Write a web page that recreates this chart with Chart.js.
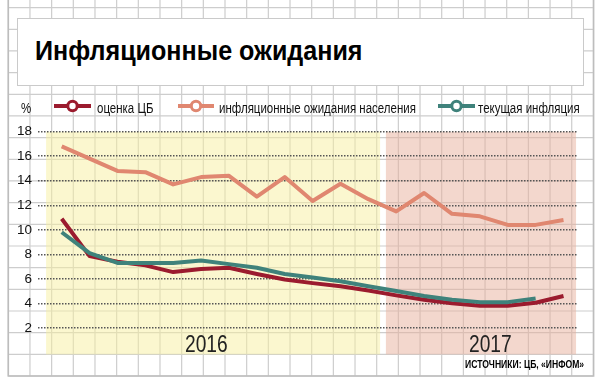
<!DOCTYPE html>
<html>
<head>
<meta charset="utf-8">
<script src="https://cdn.jsdelivr.net/npm/chart.js@4.4.1/dist/chart.umd.min.js"></script>
<style>
  html, body { margin: 0; padding: 0; background: #fff; }
  #wrap { position: relative; width: 605px; height: 388px; overflow: hidden; }
  #bg, #chartBox { position: absolute; left: 0; top: 0; width: 605px; height: 388px; }
  .t { position: absolute; white-space: nowrap; line-height: 1; color: #111; transform-origin: 0 0; }
  #titleBox { position: absolute; left: 17px; top: 18px; width: 567px; height: 68px; background: #fff; border: 1px solid #cacaca; box-sizing: border-box; }
  #title { left: 35px; top: 36px; font: bold 27px "Liberation Sans", Arial, sans-serif; color: #000; transform: scaleX(0.93); }
  .leg { font: 14px "Liberation Sans", Arial, sans-serif; top: 99.6px; color: #111; transform: scaleX(0.82); }
  .mk { position: absolute; top: 99px; }
  .year { font: 24px "Liberation Sans", Arial, sans-serif; top: 330.4px; color: #222; transform: scaleX(0.8); }
  #src { font: bold 11px "Liberation Sans", Arial, sans-serif; top: 358.3px; left: 465px; color: #000; transform: scaleX(0.78); }
</style>
</head>
<body>
<div id="wrap">
  <canvas id="bg" width="605" height="388"></canvas>
  <div id="titleBox"></div>
  <div class="t" id="title">Инфляционные ожидания</div>
  <div id="chartBox"><canvas id="chart" width="605" height="388"></canvas></div>
  <div class="t leg" style="left:20.5px;">%</div>
  <svg class="mk" style="left:54px" width="37" height="14"><line x1="0" y1="7" x2="37" y2="7" stroke="#9b1b2e" stroke-width="4"/><circle cx="18.5" cy="7" r="4.7" fill="#fff" stroke="#9b1b2e" stroke-width="3"/></svg>
  <div class="t leg" style="left:96.5px;">оценка ЦБ</div>
  <svg class="mk" style="left:178px" width="36" height="14"><line x1="0" y1="7" x2="36" y2="7" stroke="#e08770" stroke-width="4"/><circle cx="18" cy="7" r="4.7" fill="#fff" stroke="#e08770" stroke-width="3"/></svg>
  <div class="t leg" style="left:218.5px;">инфляционные ожидания населения</div>
  <svg class="mk" style="left:438px" width="37" height="14"><line x1="0" y1="7" x2="37" y2="7" stroke="#3f827b" stroke-width="4"/><circle cx="18.5" cy="7" r="4.7" fill="#fff" stroke="#3f827b" stroke-width="3"/></svg>
  <div class="t leg" style="left:478px;">текущая инфляция</div>
  <div class="t year" style="left:184.5px;">2016</div>
  <div class="t year" style="left:468.5px;">2017</div>
  <div class="t" id="src">ИСТОЧНИКИ: ЦБ, «ИНФОМ»</div>
</div>
<script>
// ---- data ----
const months = ['янв 2016','фев 2016','мар 2016','апр 2016','май 2016','июн 2016','июл 2016','авг 2016','сен 2016','окт 2016','ноя 2016','дек 2016',
                'янв 2017','фев 2017','мар 2017','апр 2017','май 2017','июн 2017','июл 2017'];
const cbEstimate = [10.9, 7.85, 7.4, 7.1, 6.55, 6.8, 6.9, 6.4, 5.95, 5.65, 5.4, 5.05, 4.65, 4.3, 4.0, 3.8, 3.8, 4.05, 4.6];
const populationExpectations = [16.8, 15.8, 14.8, 14.7, 13.7, 14.3, 14.4, 12.7, 14.3, 12.35, 13.75, 12.5, 11.5, 13.0, 11.3, 11.1, 10.4, 10.4, 10.8];
const currentInflation = [9.8, 8.1, 7.3, 7.3, 7.3, 7.5, 7.2, 6.9, 6.4, 6.1, 5.8, 5.4, 5.0, 4.6, 4.3, 4.1, 4.1, 4.4, null];
const yTicks = [2, 4, 6, 8, 10, 12, 14, 16, 18];
const yearBands = ['2016', '2017'];
const bandStart = [-0.56, 11.63];
const bandEnd = [11.42, 18.45];

// ---- graph-paper background (decoration) ----
(function () {
  const c = document.getElementById('bg').getContext('2d');
  c.strokeStyle = '#cdcdcd';
  c.lineWidth = 1.2;
  const step = 21.67;
  for (let k = 0; k <= 27; k++) {
    const x = 8.3 + k * step;
    c.beginPath(); c.moveTo(x, 0); c.lineTo(x, 376); c.stroke();
  }
  for (let k = 0; k <= 17; k++) {
    const y = 376 - k * step;
    c.beginPath(); c.moveTo(8.3, y); c.lineTo(593.4, y); c.stroke();
  }
  c.strokeStyle = '#bdbdbd';
  c.lineWidth = 1.6;
  c.beginPath(); c.moveTo(8.3, 0); c.lineTo(8.3, 376); c.lineTo(593.6, 376); c.lineTo(593.6, 0); c.stroke();
})();

const toXY = arr => arr.map((v, i) => ({ x: i, y: v }));

const bandPlugin = {
  id: 'bands',
  beforeDraw(chart) {
    const { ctx, chartArea, scales } = chart;
    const fills = ['rgba(248,240,160,0.5)', 'rgba(232,175,155,0.5)'];
    ctx.save();
    yearBands.forEach((yr, i) => {
      const x0 = scales.x.getPixelForValue(bandStart[i]);
      const x1 = scales.x.getPixelForValue(bandEnd[i]);
      const top = scales.y.getPixelForValue(18);
      ctx.fillStyle = fills[i];
      ctx.fillRect(x0, top, x1 - x0, chartArea.bottom + 2 - top);
    });
    ctx.restore();
  }
};

new Chart(document.getElementById('chart'), {
  type: 'line',
  data: {
    labels: months,
    datasets: [
      { label: 'текущая инфляция', data: toXY(currentInflation), borderColor: '#3f827b', borderWidth: 4, pointRadius: 0, order: 0, spanGaps: false },
      { label: 'оценка ЦБ', data: toXY(cbEstimate), borderColor: '#9b1b2e', borderWidth: 4, pointRadius: 0, order: 1 },
      { label: 'инфляционные ожидания населения', data: toXY(populationExpectations), borderColor: '#e08770', borderWidth: 4, pointRadius: 0, order: 2 }
    ]
  },
  options: {
    responsive: false,
    animation: false,
    devicePixelRatio: 1,
    layout: { padding: { top: 131.7, bottom: 35.6, right: 27, left: 0 } },
    plugins: { legend: { display: false }, tooltip: { enabled: false }, title: { display: false } },
    elements: { line: { tension: 0, borderCapStyle: 'butt', borderJoinStyle: 'round' } },
    scales: {
      x: { type: 'linear', min: -0.85, max: 18.52, display: false },
      y: {
        min: 0, max: 18,
        afterBuildTicks(scale) { scale.ticks = [{ value: 0 }].concat(yTicks.map(v => ({ value: v }))); },
        afterFit(scale) { scale.width = 38; },
        border: { display: false, dash: [1.5, 1.5] },
        grid: {
          drawTicks: false,
          color: ctx => (ctx.tick && ctx.tick.value === 0) ? 'rgba(0,0,0,0)' : '#555',
          lineWidth: 1.5
        },
        ticks: {
          padding: 6,
          color: '#111',
          font: { family: '"Liberation Sans", Arial, sans-serif', size: 13.5 },
          callback: v => (v === 0 ? '' : String(v))
        }
      }
    }
  },
  plugins: [bandPlugin]
});
</script>
</body>
</html>
